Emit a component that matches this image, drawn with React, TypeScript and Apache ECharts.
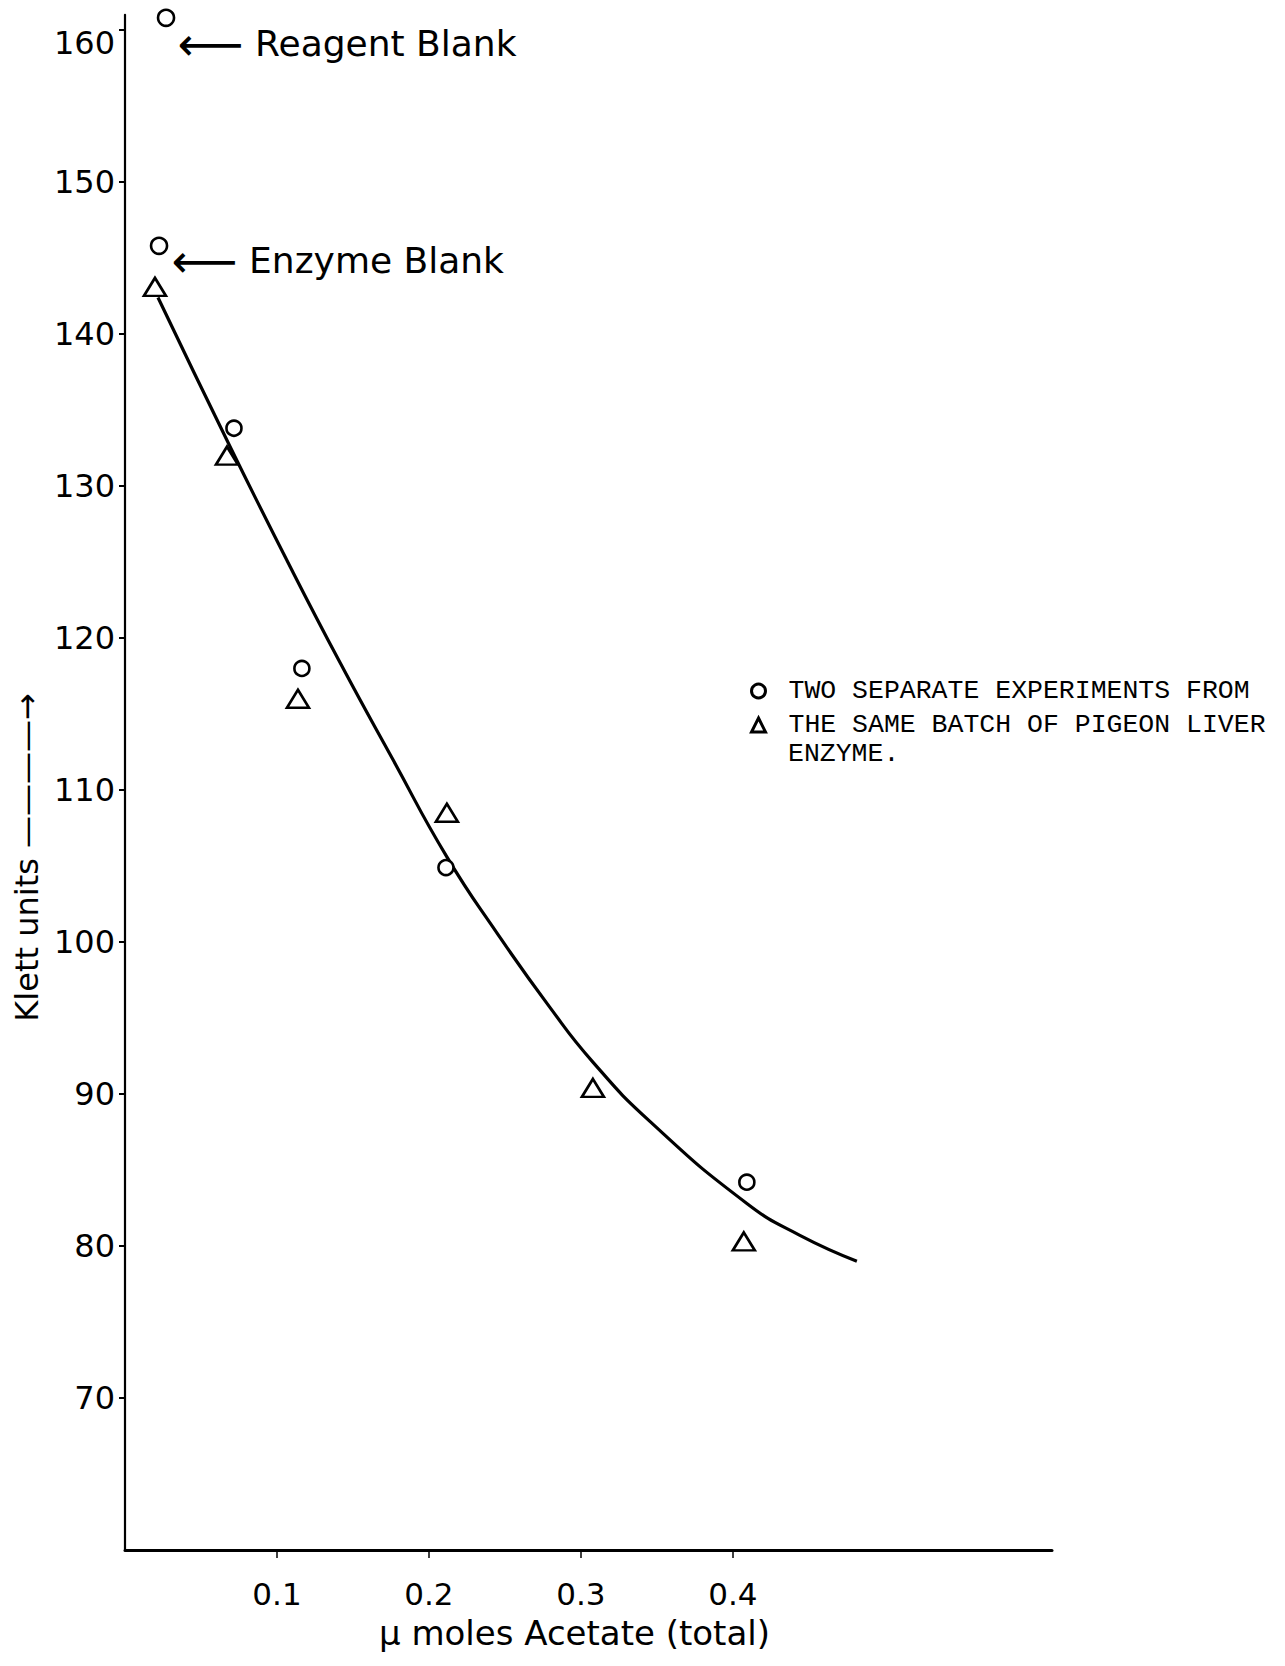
import React, { useEffect, useRef } from "react";
import * as echarts from "echarts";

// ---- data ----
const xTickValues = [0.1, 0.2, 0.3, 0.4];
const yTickValues = [70, 80, 90, 100, 110, 120, 130, 140, 150, 160];

const circleName = "TWO SEPARATE EXPERIMENTS FROM";
const triangleName = "THE SAME BATCH OF PIGEON LIVER";
const legendTail = "ENZYME.";

const circleX = [0.0717, 0.1164, 0.2112, 0.4092];
const circleY = [133.8, 118.0, 104.9, 84.2];

const triangleX = [0.0197, 0.0671, 0.1138, 0.2118, 0.3079, 0.4072];
const triangleY = [143.1, 132.0, 116.0, 108.5, 90.4, 80.3];

const blankNames = ["Reagent Blank", "Enzyme Blank"];
const blankX = [0.027, 0.0224];
const blankY = [160.8, 145.8];

const curveX = [0.0217, 0.0691, 0.1066, 0.1414, 0.1763, 0.2118, 0.2447, 0.2796, 0.3079, 0.3454, 0.4092, 0.4441, 0.4816];
const curveY = [142.4, 132.6, 125.1, 118.4, 112.0, 105.6, 100.6, 95.7, 92.1, 88.2, 82.8, 80.7, 79.0];

const xTitle = "μ moles Acetate (total)";
const yTitle = "Klett units ————→";

const FONT = "DejaVu Sans";
const MONO = "Liberation Mono";

const pair = (xs: number[], ys: number[]) => xs.map((x, i) => [x, ys[i]]);

export default function App() {
  const ref = useRef<HTMLDivElement>(null);

  useEffect(() => {
    if (!ref.current) return;
    const chart = echarts.init(ref.current, null, { renderer: "svg" });

    const hollow = {
      color: "#ffffff",
      borderColor: "#000000",
      borderWidth: 2.6,
      opacity: 1,
    };

    const blankLabelPos = [
      [21, 35],
      [22, 24],
    ];

    const plainText = { textBorderWidth: 0, textBorderColor: "transparent", textShadowBlur: 0 };

    chart.setOption({
      animation: false,
      backgroundColor: "#ffffff",
      textStyle: { fontFamily: FONT, color: "#000" },
      grid: {
        left: 117,
        top: 6.8,
        width: 927,
        height: 1535.2,
        containLabel: false,
        outerBoundsMode: "none",
      },
      legend: {
        data: [circleName, triangleName],
        orient: "vertical",
        left: 737,
        top: 664,
        itemWidth: 14,
        itemHeight: 14,
        itemGap: 6,
        selectedMode: false,
        itemStyle: { borderWidth: 3, opacity: 1 },
        textStyle: {
          fontFamily: MONO,
          fontSize: 26.5,
          lineHeight: 28,
          color: "#000",
          padding: [0, 0, 0, 18],
        },
      },
      graphic: [
        {
          type: "text",
          left: 780,
          top: 732,
          style: { text: legendTail, font: `26.5px "${MONO}"`, fill: "#000" },
        },
      ],
      xAxis: {
        type: "value",
        min: 0,
        max: 0.61,
        interval: 0.1,
        name: xTitle,
        nameLocation: "middle",
        nameGap: 66,
        nameTextStyle: { fontSize: 34, color: "#000", fontFamily: FONT, padding: [0, 28, 0, 0] },
        axisLine: { show: true, onZero: false, lineStyle: { color: "#000", width: 3 } },
        axisTick: {
          show: true,
          length: 8,
          lineStyle: { color: "#000", width: 1.5 },
          customValues: xTickValues,
        },
        axisLabel: {
          margin: 28,
          fontSize: 31,
          color: "#000",
          fontFamily: FONT,
          customValues: xTickValues,
          formatter: (v: number) => {
            const hit = xTickValues.find((t) => Math.abs(t - v) < 1e-6);
            return hit !== undefined ? hit.toFixed(1) : "";
          },
        },
        splitLine: { show: false },
      },
      yAxis: {
        type: "value",
        min: 60,
        max: 161,
        interval: 10,
        name: yTitle,
        nameLocation: "middle",
        nameRotate: 90,
        nameGap: 75,
        nameTextStyle: { fontSize: 32, color: "#000", fontFamily: FONT, padding: [0, 150, 0, 0] },
        axisLine: { show: true, onZero: false, lineStyle: { color: "#000", width: 2.2 } },
        axisTick: {
          show: true,
          length: 6,
          lineStyle: { color: "#000", width: 2 },
          customValues: yTickValues,
        },
        axisLabel: {
          margin: 10,
          fontSize: 32,
          color: "#000",
          fontFamily: FONT,
          customValues: yTickValues,
          formatter: (v: number) => {
            if (!yTickValues.includes(v)) return "";
            return v === 160 ? `{top|${v}}` : String(v);
          },
          rich: {
            top: { fontSize: 32, fontFamily: FONT, color: "#000", padding: [26, 0, 0, 0] },
          },
        },
        splitLine: { show: false },
      },
      series: [
        {
          name: "Fitted curve",
          type: "line",
          data: pair(curveX, curveY),
          smooth: 0.5,
          showSymbol: false,
          symbol: "none",
          lineStyle: { color: "#000", width: 3.2 },
          z: 2,
        },
        {
          name: circleName,
          type: "scatter",
          data: pair(circleX, circleY),
          symbol: "circle",
          symbolSize: 15,
          itemStyle: hollow,
          clip: false,
          z: 3,
        },
        {
          name: triangleName,
          type: "scatter",
          data: pair(triangleX, triangleY),
          symbol: "triangle",
          symbolSize: [22, 18],
          itemStyle: hollow,
          clip: false,
          z: 3,
        },
        {
          name: "Blanks",
          type: "scatter",
          data: blankNames.map((n, i) => ({
            name: n,
            value: [blankX[i], blankY[i]],
            label: {
              show: true,
              position: blankLabelPos[i],
              align: "left",
              verticalAlign: "middle",
              color: "#000",
              ...plainText,
              formatter: (p: any) => `{a|⟵}{t| ${p.name}}`,
              rich: {
                a: { fontSize: 46, fontFamily: FONT, color: "#000", verticalAlign: "middle", ...plainText },
                t: { fontSize: 36, fontFamily: FONT, color: "#000", verticalAlign: "middle", ...plainText },
              },
            },
          })),
          symbol: "circle",
          symbolSize: 16,
          itemStyle: hollow,
          clip: false,
          z: 3,
        },
      ],
    });

    return () => chart.dispose();
  }, []);

  return <div ref={ref} style={{ width: 1269, height: 1650 }} />;
}
